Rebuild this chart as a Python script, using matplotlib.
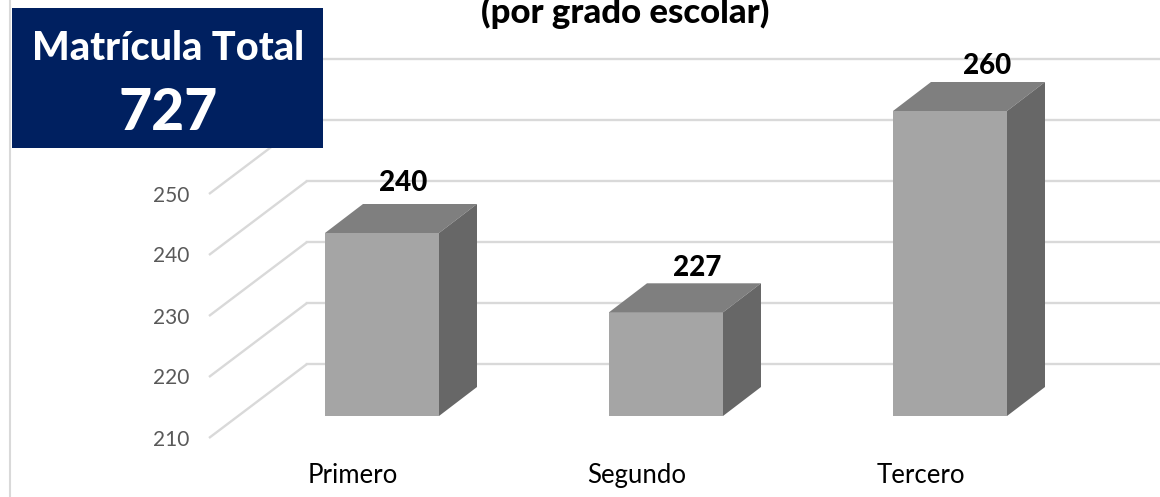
import matplotlib
matplotlib.use('Agg')
import matplotlib.pyplot as plt
from matplotlib.patches import Polygon, Rectangle

plt.rcParams['font.family'] = ['Lato', 'DejaVu Sans']

# data
grados = ['Primero', 'Segundo', 'Tercero']
matricula = [240, 227, 260]
ticks = [210, 220, 230, 240, 250, 260]
total = 727

W, H = 1160, 497
fig = plt.figure(figsize=(W / 100, H / 100), dpi=100, facecolor='white')
ax = fig.add_axes([0, 0, 1, 1])

# one category = 284 px, ten students = 61 px, floor of the bars at y=416 px
pxX = 1 / 284
pxY = 10 / 61
ax.set_xlim(-382 * pxX, (W - 382) * pxX)
ax.set_ylim(210 - (H - 416) * pxY, 210 + 416 * pxY)
ax.axis('off')

barW = 114 * pxX
depthX, depthY = 38 * pxX, 29 * pxY
base = ticks[0]

# walls: x of the front and back edge, y shift from the plane of the bars
frontX, frontY = (209 - 382) * pxX, -22 * pxY
backX, backY = (307 - 382) * pxX, 52 * pxY
grid = '#d9d9d9'

for t in ticks:
    ax.plot([frontX, backX], [t + frontY, t + backY], color=grid, lw=1.7, zorder=1,
            solid_capstyle='butt')
    ax.plot([backX, 2.8], [t + backY, t + backY], color=grid, lw=1.7, zorder=1)

# the 260 label is hidden behind the total box
for t in ticks[:-1]:
    ax.text(frontX - 20 * pxX, t + frontY - 1.5 * pxY, str(t), ha='right', va='center',
            fontsize=15, color='#595959', zorder=2)

# label offsets differ from bar to bar in the original (px)
labelDx = [21, 31, 37]
labelDy = [21, 15, 16]

for i, (g, v) in enumerate(zip(grados, matricula)):
    x0, x1 = i - barW / 2, i + barW / 2
    ax.add_patch(Rectangle((x0, base), barW, v - base, fc='#a5a5a5', ec='none', zorder=3))
    ax.add_patch(Polygon([(x0, v), (x1, v), (x1 + depthX, v + depthY), (x0 + depthX, v + depthY)],
                         fc='#7f7f7f', ec='none', zorder=3))
    ax.add_patch(Polygon([(x1, base), (x1 + depthX, base + depthY), (x1 + depthX, v + depthY), (x1, v)],
                         fc='#676767', ec='none', zorder=3))
    ax.text(i + labelDx[i] * pxX, v + depthY + labelDy[i] * pxY, str(v), ha='center', va='center',
            fontsize=20, fontweight='black', color='black', zorder=4)
    ax.text(i - 29 * pxX, base - 59 * pxY, g, ha='center', va='center',
            fontsize=18.5, color='black', zorder=4)

# title, cut by the top edge in the original
fig.text(625 / W, 1 - 12 / H, '(por grado escolar)', ha='center', va='center',
         fontsize=25, fontweight='black', color='black')

# left border and total box are fixed in figure pixels
fig.add_artist(plt.Line2D([10 / W, 10 / W], [0, 1], color=grid, lw=1.5))
fig.add_artist(Rectangle((12 / W, 1 - 148 / H), 311 / W, 140 / H, transform=fig.transFigure,
                         fc='#002060', ec='none', zorder=5))
fig.text(168 / W, 1 - 48 / H, 'Matrícula Total', ha='center', va='center', fontsize=28.5,
         fontweight='black', color='white', zorder=6)
fig.text(168 / W, 1 - 114 / H, str(total), ha='center', va='center', fontsize=41,
         fontweight='black', color='white', zorder=6)

fig.savefig('out.png', dpi=100)
